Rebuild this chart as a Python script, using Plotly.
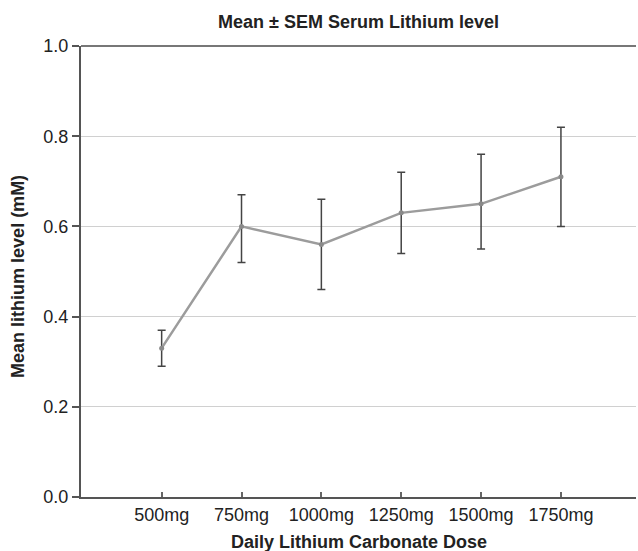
import plotly.graph_objects as go

doses = ["500mg", "750mg", "1000mg", "1250mg", "1500mg", "1750mg"]
mean_level = [0.33, 0.60, 0.56, 0.63, 0.65, 0.71]
err_upper = [0.37, 0.67, 0.66, 0.72, 0.76, 0.82]
err_lower = [0.29, 0.52, 0.46, 0.54, 0.55, 0.60]

plus = [u - m for u, m in zip(err_upper, mean_level)]
minus = [m - l for m, l in zip(mean_level, err_lower)]

fig = go.Figure()
fig.add_trace(go.Scatter(
    x=doses, y=mean_level, mode="lines+markers",
    line=dict(color="#9c9c9c", width=2.5),
    marker=dict(color="#8a8a8a", size=5),
    error_y=dict(type="data", symmetric=False, array=plus, arrayminus=minus,
                 color="#444444", thickness=1.5, width=4),
    showlegend=False,
))

font = "Liberation Sans, Arial, sans-serif"
fig.update_layout(
    width=638, height=551,
    margin=dict(l=81, r=2, t=46, b=54),
    paper_bgcolor="white", plot_bgcolor="white",
    font=dict(family=font, color="#222222", size=18),
    title=dict(text="<b>Mean ± SEM Serum Lithium level</b>", x=0.5, xref="paper",
               y=1 - 22 / 551, yref="container", yanchor="middle",
               font=dict(size=18, family=font, color="#222222")),
    xaxis=dict(
        type="category", range=[-1.01, 5.94], automargin=False,
        showline=True, linecolor="#555555", linewidth=2,
        ticks="inside", ticklen=5, tickcolor="#666666", tickwidth=1.5,
        showgrid=False, zeroline=False,
        tickfont=dict(size=18),
    ),
    yaxis=dict(
        range=[0, 1.0], dtick=0.2, tickformat=".1f", automargin=False,
        showline=True, linecolor="#555555", linewidth=2,
        ticks="outside", ticklen=7, tickcolor="#555555", tickwidth=1.5,
        showgrid=True, gridcolor="#d0d0d0", gridwidth=1, zeroline=False,
        tickfont=dict(size=18),
    ),
    shapes=[dict(type="line", xref="paper", yref="paper", x0=0, x1=1, y0=1, y1=1,
                 line=dict(color="#777777", width=2))],
    annotations=[
        dict(text="<b>Daily Lithium Carbonate Dose</b>", xref="paper", yref="paper",
             x=0.5, y=-45 / 451, yanchor="middle", showarrow=False,
             font=dict(size=18, family=font, color="#222222")),
        dict(text="<b>Mean lithium level (mM)</b>", xref="paper", yref="paper",
             x=-63 / 555, y=0.488, xanchor="center", yanchor="middle", textangle=-90,
             showarrow=False, font=dict(size=18, family=font, color="#222222")),
    ],
)

fig.write_html("out.html", config={"displayModeBar": False},
               post_script="document.body.style.margin='0';document.body.style.padding='0';")
